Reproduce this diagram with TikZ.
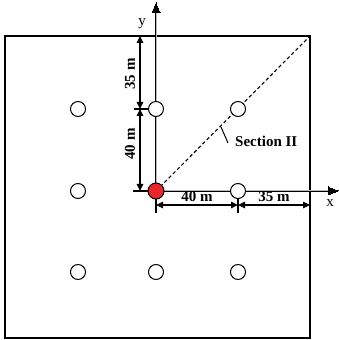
\documentclass[tikz,border=0pt]{standalone}
\usepackage{fontspec}
\setmainfont{Liberation Serif}
\usetikzlibrary{arrows.meta}
\definecolor{wellred}{RGB}{232,40,45}
\begin{document}
\begin{tikzpicture}[x=1pt,y=1pt,
  well/.style={circle,draw,line width=1pt,fill=white,minimum size=15pt,inner sep=0pt},
  axisline/.style={line width=0.5pt,double=gray!55,double distance=1pt},
  dimline/.style={line width=1.2pt,{Triangle[length=7pt,width=6.5pt]}-{Triangle[length=7pt,width=6.5pt]}},
  tick/.style={line width=1.2pt},
  lbl/.style={font=\fontsize{15}{16}\selectfont\bfseries,inner sep=1pt}]
\useasboundingbox (0,0) rectangle (339,340);
% boundary
\draw[line width=1.7pt] (5,2) rectangle (310,304);
\coordinate (corner) at (310,304);
% axes
\coordinate (ytip) at (156,337);
\coordinate (xtip) at (338,149);
\coordinate (o) at (156,149);
\draw[axisline] (o) -- (156,328);
\draw[axisline] (o) -- (329,149);
\draw[line width=0pt,fill=black] (ytip) -- ++(-4,-10) -- ++(8,0) -- cycle;
\draw[line width=0pt,fill=black] (xtip) -- ++(-10,-4) -- ++(0,8) -- cycle;
\node[font=\fontsize{15}{16}\selectfont,inner sep=1pt] (ylab) at (142,316) {y};
\node[font=\fontsize{15}{16}\selectfont,inner sep=1pt] (xlab) at (330,137) {x};
% dashed section line
\draw[line width=1.1pt,dash pattern=on 3.5pt off 2.5pt] (o) -- (corner);
% wells
\node[well] (w11) at (78,231) {};
\node[well] (w12) at (156,231) {};
\node[well] (w13) at (238,231) {};
\node[well] (w21) at (78,149) {};
\node[well] (w23) at (238,149) {};
\node[well] (w31) at (78,68) {};
\node[well] (w32) at (156,68) {};
\node[well] (w33) at (238,68) {};
\node[circle,draw,line width=1pt,fill=wellred,minimum size=16pt,inner sep=0pt] (red) at (o) {};
% ticks for vertical dimension
\coordinate (vt1) at (134,231);
\coordinate (vt2) at (133,149);
\draw[tick] (vt1) -- (w12.west);
\draw[tick] (vt2) -- (red.west);
\coordinate (vtop) at (140,304);
\coordinate (vmid) at (140,231);
\coordinate (vbot) at (140,149);
\draw[dimline] (vtop) -- (vmid);
\draw[dimline] (vmid) -- (vbot);
\node[lbl,rotate=90] (d35v) at (130,266) {35 m};
\node[lbl,rotate=90] (d40v) at (130,196) {40 m};
% ticks for horizontal dimension
\coordinate (ht1) at (156,127);
\coordinate (ht2) at (238,127);
\draw[tick] (red.south) -- (ht1);
\draw[tick] (w23.south) -- (ht2);
\coordinate (hl) at (156,135);
\coordinate (hm) at (238,135);
\coordinate (hr) at (310,135);
\draw[dimline] (hl) -- (hm);
\draw[dimline] (hm) -- (hr);
\node[lbl] (d40h) at (197,143) {40 m};
\node[lbl] (d35h) at (274,143) {35 m};
% section label
\node[lbl,anchor=west] (sec) at (234,199) {Section II};
\coordinate (l1) at (221,213);
\coordinate (l2) at (228,197);
\draw[line width=1pt] (l1) -- (l2);
\end{tikzpicture}
\end{document}
